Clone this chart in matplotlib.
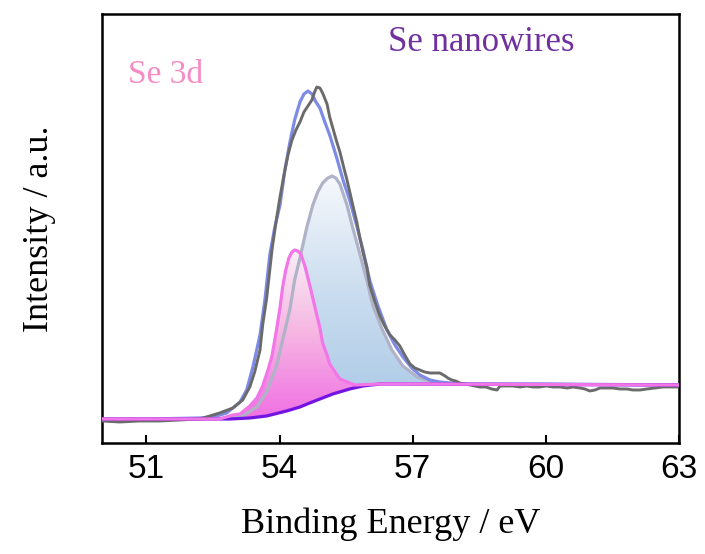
import numpy as np
import matplotlib
matplotlib.use("Agg")
import matplotlib.pyplot as plt
from matplotlib.colors import LinearSegmentedColormap
from matplotlib.patches import Polygon

# Se 3d XPS spectrum, binding energy (eV) vs intensity (a.u.)
raw_x = [50.00, 50.40, 50.85, 51.30, 51.75, 52.20, 52.43, 52.65, 52.95, 53.17,
         53.33, 53.44, 53.56, 53.62, 53.71, 53.83, 53.92, 54.01, 54.10, 54.19,
         54.28, 54.37, 54.46, 54.55, 54.64, 54.73, 54.79, 54.84, 54.91, 54.97,
         55.07, 55.13, 55.20, 55.29, 55.36, 55.45, 55.52, 55.65, 55.74, 55.81,
         55.88, 55.97, 56.03, 56.15, 56.26, 56.37, 56.49, 56.60, 56.71, 56.82,
         56.94, 57.05, 57.16, 57.27, 57.39, 57.50, 57.61, 57.73, 57.79, 57.88,
         57.97, 58.06, 58.18, 58.29, 58.40, 58.51, 58.65, 58.78, 58.90, 58.97,
         59.12, 59.26, 59.42, 59.57, 59.71, 59.86, 60.02, 60.16, 60.32, 60.48,
         60.61, 60.77, 60.88, 60.99, 61.11, 61.22, 61.38, 61.51, 61.67, 61.83,
         61.96, 62.12, 62.28, 62.46, 62.64, 62.80, 62.96]
raw_y = [22, 21, 22, 22, 23, 24, 27, 30, 35, 43,
         56, 71, 93, 118, 145, 193, 221, 246, 268, 288,
         303, 313, 321, 331, 337, 343, 351, 356, 355, 350,
         339, 326, 315, 301, 291, 275, 263, 238, 221, 205,
         191, 175, 158, 141, 127, 117, 108, 103, 97, 88,
         79, 75, 73, 71, 70, 70, 70, 67, 65, 63,
         62, 60, 59, 58, 57, 56, 56, 54, 53, 57,
         57, 57, 56, 57, 56, 56, 57, 56, 56, 55,
         56, 55, 54, 52, 53, 55, 55, 55, 54, 54,
         53, 53, 54, 55, 56, 56, 56]

fit_x = [50.00, 51.08, 52.20, 52.50, 52.81, 53.11, 53.26, 53.40, 53.56, 53.67,
         53.78, 53.89, 54.01, 54.12, 54.23, 54.34, 54.46, 54.55, 54.64, 54.73,
         54.82, 54.91, 55.02, 55.13, 55.29, 55.43, 55.58, 55.74, 55.88, 56.03,
         56.21, 56.42, 56.60, 56.78, 56.98, 57.16, 57.39, 57.61, 57.84, 58.29,
         60.09, 63.00]
fit_y = [24, 24, 25, 26, 30, 41, 53, 76, 108, 143,
         188, 215, 238, 273, 300, 323, 341, 349, 352, 349,
         341, 335, 321, 308, 285, 263, 243, 217, 193, 163,
         138, 113, 98, 86, 75, 68, 63, 61, 60, 59,
         59, 58]

d32_x = [52.20, 52.88, 53.17, 53.49, 53.71, 53.94, 54.07, 54.23, 54.34, 54.46,
         54.61, 54.75, 54.86, 54.97, 55.09, 55.18, 55.27, 55.36, 55.52, 55.65,
         55.81, 55.97, 56.10, 56.30, 56.53, 56.78, 57.10, 57.46, 57.84]
d32_y = [24, 25, 27, 36, 51, 78, 103, 133, 163, 185,
         215, 238, 251, 260, 265, 267, 265, 259, 238, 215,
         189, 162, 138, 115, 93, 77, 66, 61, 59]

d52_x = [50.00, 52.20, 52.65, 52.95, 53.11, 53.33, 53.49, 53.62, 53.74, 53.83,
         53.92, 54.01, 54.07, 54.14, 54.21, 54.28, 54.34, 54.41, 54.48, 54.57,
         54.68, 54.77, 54.84, 54.91, 54.97, 55.07, 55.13, 55.25, 55.36, 55.52,
         55.70, 56.26, 57.16, 63.00]
d52_y = [24, 24, 24, 28, 29, 37, 45, 57, 73, 87,
         110, 135, 156, 173, 185, 191, 193, 192, 189, 177,
         158, 141, 128, 115, 100, 88, 79, 71, 64, 61,
         58, 59, 59, 58]

bg_x = [50.00, 52.32, 52.88, 53.33, 53.71, 54.16, 54.46, 54.68, 54.91, 55.20,
        55.58, 55.88, 56.26, 56.71, 63.00]
bg_y = [24, 24, 24, 25, 27, 32, 36, 40, 44, 49,
        54, 57, 59, 59, 58]

xticks = [51, 54, 57, 60, 63]

fig = plt.figure(figsize=(7.05, 5.54), dpi=100)
ax = fig.add_axes([0.1447, 0.2004, 0.8184, 0.7743])


def gradient_fill(ax, xs, ys, colors, z):
    # polygon = component line on top, background going back underneath
    pts = np.column_stack([np.concatenate([xs, bg_x[::-1]]),
                           np.concatenate([ys, bg_y[::-1]])])
    poly = Polygon(pts, closed=True, facecolor="none", edgecolor="none")
    ax.add_patch(poly)
    cmap = LinearSegmentedColormap.from_list("g", colors)
    grad = np.linspace(0, 1, 256).reshape(-1, 1)
    im = ax.imshow(grad, cmap=cmap, aspect="auto", origin="lower",
                   extent=[min(xs), max(xs), min(bg_y), max(ys)], zorder=z)
    im.set_clip_path(poly)


gradient_fill(ax, d32_x, d32_y, ["#a9c8e6", "#c9dcef", "#f6f8fc"], 1)
gradient_fill(ax, d52_x, d52_y, ["#f070e4", "#f6b4e2", "#f8eef6"], 2)

ax.plot(d32_x, d32_y, color="#b0b3c7", lw=2.3, zorder=3)
ax.plot(fit_x, fit_y, color="#7d8ae6", lw=2.3, zorder=4)
ax.plot(raw_x, raw_y, color="#6b6b6b", lw=2.1, zorder=5)
ax.plot(bg_x, bg_y, color="#7414e2", lw=2.3, zorder=6)
ax.plot(d52_x, d52_y, color="#f276e8", lw=2.3, zorder=7)

ax.set_xlim(50, 63)
ax.set_ylim(0, 429)
ax.set_xticks(xticks)
ax.set_xticklabels([str(t) for t in xticks], family="Liberation Sans", fontsize=24)
ax.set_yticks([])
ax.tick_params(axis="x", direction="in", length=5.5, width=1.5, pad=8)
for s in ax.spines.values():
    s.set_linewidth(1.8)

ax.set_xlabel("Binding Energy / eV", family="Liberation Serif", fontsize=26, labelpad=16)
ax.set_ylabel("Intensity / a.u.", family="Liberation Serif", fontsize=26, labelpad=33)

ax.text(50.58, 360, "Se 3d", family="Liberation Serif", fontsize=24, color="#f78cc4")
ax.text(56.45, 392, "Se nanowires", family="Liberation Serif", fontsize=25, color="#7030a0")

fig.savefig("out.png", dpi=100)
